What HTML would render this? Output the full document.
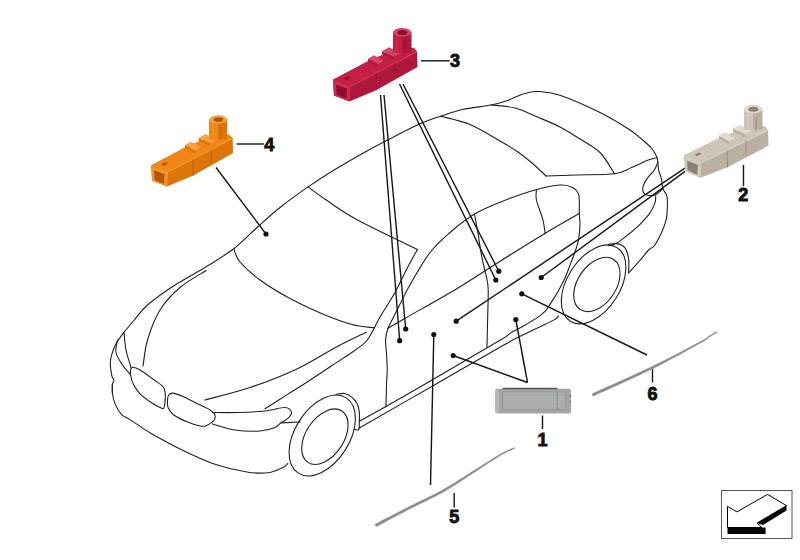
<!DOCTYPE html>
<html><head><meta charset="utf-8"><style>
html,body{margin:0;padding:0;background:#fff;width:800px;height:560px;overflow:hidden}
svg{display:block}
</style></head><body>
<svg width="800" height="560" viewBox="0 0 800 560">
<g fill="none" stroke="#1f1f1f" stroke-width="1.1" stroke-linecap="round" stroke-linejoin="round">
<path d="M112.4 392.9 C112.4 391.5 112.2 386.4 112.4 384.3 C112.7 382.2 114.0 381.4 113.9 380.0 C113.8 378.6 112.4 378.6 111.8 375.7 C111.2 372.8 110.3 366.5 110.3 362.9 C110.3 359.3 110.8 357.5 111.8 354.3 C112.8 351.1 114.1 347.2 116.1 343.6 C118.1 340.0 120.6 336.8 123.6 332.9 C126.6 329.0 130.3 324.6 134.3 320.0 C138.3 315.4 140.7 310.8 147.5 305.0 C154.3 299.2 165.4 291.2 175.0 285.0 C184.6 278.8 195.2 273.5 205.0 267.5 C214.8 261.5 225.2 255.2 233.8 248.8 C242.2 242.2 248.3 235.4 256.0 228.5 C263.7 221.6 271.3 214.4 280.0 207.5 C288.7 200.6 298.7 193.4 308.1 186.9 C317.5 180.4 326.1 174.9 336.2 168.8 C346.4 162.6 359.0 155.4 368.8 150.0 C378.5 144.6 386.5 140.6 395.0 136.2 C403.5 131.9 412.4 127.1 420.0 123.8 C427.6 120.4 433.5 118.6 440.6 116.2 C447.7 113.9 454.1 111.4 462.5 109.5 C470.9 107.6 483.5 106.5 491.0 105.0 C498.5 103.5 502.0 102.4 507.5 100.5 C513.0 98.6 519.0 95.2 524.0 93.8 C529.0 92.2 531.5 91.2 537.5 91.5 C543.5 91.8 549.6 91.8 560.0 95.2 C570.4 98.8 588.3 106.7 600.0 112.5 C611.7 118.3 622.9 125.4 630.0 130.0 C637.1 134.6 639.0 137.0 642.6 140.0 C646.2 143.0 649.0 145.1 651.4 148.0 C653.8 150.9 655.8 154.0 657.0 157.7 C658.2 161.4 657.9 166.5 658.6 170.0 C659.3 173.5 660.7 175.5 661.4 178.6 C662.1 181.7 661.9 185.5 662.9 188.6 C663.9 191.7 666.4 193.0 667.1 197.1 C667.8 201.2 667.3 208.8 667.1 212.9 C666.9 217.0 666.7 218.1 665.7 221.4 C664.8 224.7 663.3 228.9 661.4 232.9 C659.5 236.9 656.4 242.8 654.3 245.7 C652.2 248.5 651.0 247.6 648.6 250.0 C646.2 252.4 643.3 256.6 640.0 260.4 C636.7 264.2 630.5 270.8 628.6 272.9"/>
<path d="M112.4 384.3 C112.4 385.7 112.0 389.7 112.4 392.9 C112.8 396.1 113.5 400.0 115.0 403.6 C116.5 407.2 118.9 411.6 121.4 414.3 C123.9 417.0 125.0 416.4 130.0 419.6 C135.0 422.8 142.4 428.3 151.2 433.4 C160.1 438.5 172.5 445.3 183.1 450.4 C193.7 455.5 204.4 460.6 215.0 464.2 C225.6 467.8 238.1 470.6 246.9 472.0 C255.8 473.4 262.1 473.5 268.1 472.7 C274.1 471.9 279.7 468.9 283.0 467.4 C286.3 465.9 287.0 464.1 287.8 463.5"/>
<path d="M206.2 270.5 C201.9 273.3 187.7 280.9 180.0 287.5 C172.3 294.1 165.4 301.2 160.0 310.0 C154.6 318.8 150.3 330.7 147.5 340.0 C144.7 349.3 143.8 361.7 143.0 366.0"/>
<path d="M124.0 332.0 C124.3 335.0 124.8 344.1 126.0 350.0 C127.2 355.9 130.2 364.6 131.0 367.5"/>
<path d="M117.5 340.0 C117.2 342.1 115.2 348.3 116.0 352.5 C116.8 356.7 120.2 361.4 122.5 365.0 C124.8 368.6 128.8 372.5 130.0 374.0"/>
<path d="M233.8 248.8 C234.8 251.0 235.6 256.8 240.0 262.0 C244.4 267.2 251.7 273.9 260.0 280.0 C268.3 286.1 279.6 292.9 290.0 298.5 C300.4 304.1 311.9 309.4 322.1 313.7 C332.3 318.0 342.3 321.8 351.0 324.2 C359.7 326.6 370.4 327.3 374.3 327.9"/>
<path d="M308.1 186.9 C311.1 189.1 318.0 194.5 326.2 200.0 C334.5 205.5 342.3 211.8 357.5 220.0 C372.7 228.2 407.5 244.6 417.5 249.5"/>
<path d="M417.5 249.5 C415.8 252.5 411.2 260.3 407.5 267.5 C403.8 274.7 399.6 284.2 395.0 292.5 C390.4 300.8 383.4 311.1 380.0 317.0 C376.6 322.9 376.6 323.9 374.3 327.9 C372.1 331.9 369.8 337.2 366.5 341.0 C363.2 344.8 360.1 346.6 354.3 350.7 C348.6 354.8 339.3 360.6 332.0 365.5 C324.7 370.4 317.7 375.2 310.3 380.0 C302.9 384.8 295.2 389.6 287.6 394.4 C280.1 399.2 268.8 406.4 265.0 408.8"/>
<path d="M366.3 332.2 C361.6 334.5 349.9 339.7 338.2 345.9 C326.5 352.1 311.1 362.3 296.4 369.2 C281.7 376.1 265.2 382.4 250.0 387.5 C234.8 392.6 212.5 397.9 205.0 400.0"/>
<path d="M440.6 116.2 C445.5 117.6 460.1 120.4 470.0 124.5 C479.9 128.6 492.0 136.4 500.0 141.0 C508.0 145.6 512.7 148.3 518.0 152.0 C523.3 155.7 527.3 159.0 532.0 163.0 C536.7 167.0 543.7 173.8 546.0 176.0"/>
<path d="M491.0 105.0 C495.0 105.5 507.2 106.0 515.0 108.0 C522.8 110.0 530.0 113.8 537.5 117.0 C545.0 120.2 552.9 123.3 560.0 127.0 C567.1 130.7 573.3 134.8 580.0 139.0 C586.7 143.2 594.2 146.7 600.0 152.5 C605.8 158.3 612.1 170.2 614.5 173.8"/>
<path d="M546.0 176.0 C550.8 175.8 563.6 175.4 575.0 175.0 C586.4 174.6 605.0 175.0 614.5 173.8 C624.0 172.5 626.5 169.6 632.1 167.3 C637.7 165.0 644.1 161.7 648.2 160.1 C652.4 158.5 655.5 158.1 657.0 157.7"/>
<path d="M657.9 162.0 C657.3 163.3 656.1 167.2 654.3 170.0 C652.5 172.8 649.0 175.8 647.1 178.6 C645.2 181.4 643.4 184.6 642.9 187.1 C642.4 189.6 642.9 192.2 644.3 193.6 C645.7 195.0 649.4 195.6 651.4 195.7 C653.4 195.8 654.5 195.5 656.4 194.3 C658.3 193.1 661.8 189.6 662.9 188.6"/>
<path d="M655.7 195.7 C655.6 196.9 656.0 200.0 655.0 202.9 C654.0 205.8 652.5 209.3 650.0 212.9 C647.5 216.5 643.6 220.7 640.0 224.3 C636.4 227.9 632.4 231.2 628.6 234.3 C624.8 237.4 620.4 241.0 617.1 242.9 C613.8 244.8 610.0 245.2 608.6 245.7"/>
<path d="M386.0 406.8 C386.1 403.2 386.3 391.1 386.5 385.0 C386.7 378.9 387.2 375.4 387.2 370.0 C387.2 364.6 386.7 357.4 386.4 352.3 C386.1 347.2 385.3 343.4 385.6 339.4 C385.9 335.4 386.8 331.7 388.0 328.2 C389.2 324.7 390.9 322.4 392.8 318.6 C394.7 314.9 396.3 311.3 399.2 305.7 C402.1 300.1 404.9 293.7 410.0 284.8 C415.1 275.9 423.3 261.2 430.0 252.5 C436.7 243.8 442.5 239.0 450.0 232.5 C457.5 226.0 466.2 219.0 475.0 213.8 C483.8 208.5 492.5 205.2 502.5 201.2 C512.5 197.3 525.4 192.7 535.0 190.0 C544.6 187.3 553.8 185.4 560.0 185.0 C566.2 184.6 569.4 185.8 572.5 187.5 C575.6 189.2 577.6 190.4 578.8 195.0 C579.9 199.6 579.1 210.2 579.3 215.0 C579.5 219.8 580.1 219.5 580.0 223.6 C579.9 227.7 579.4 234.6 578.6 239.3 C577.8 244.1 576.3 248.0 575.0 252.1 C573.7 256.1 572.3 259.3 570.6 263.6 C568.9 267.9 567.2 273.1 565.0 277.9 C562.8 282.7 558.8 290.1 557.5 292.5"/>
<path d="M388.0 328.2 C390.8 326.6 393.5 324.9 404.8 318.4 C416.1 311.9 440.5 298.5 456.0 289.2 C471.5 279.9 483.1 271.9 497.8 262.7 C512.5 253.4 530.9 241.9 544.4 233.7 C557.9 225.5 573.0 217.1 578.8 213.8"/>
<path d="M536.4 190.0 C536.4 191.7 535.3 195.1 536.4 200.0 C537.5 204.9 541.3 213.7 542.8 219.3 C544.3 224.9 544.8 231.3 545.2 233.7"/>
<path d="M474.5 214.5 C475.1 217.4 476.6 225.0 477.8 232.1 C479.0 239.2 480.4 249.6 481.9 257.3 C483.4 265.0 485.6 272.8 486.7 278.2 C487.8 283.6 488.0 283.0 488.2 290.0 C488.4 297.0 487.8 310.5 487.6 320.0 C487.4 329.5 487.1 342.5 487.0 347.0"/>
<path d="M359.3 421.2 C363.7 418.8 375.4 412.5 385.5 406.8 C395.6 401.1 401.4 397.8 420.0 387.0 C438.6 376.2 482.0 350.9 497.0 342.0 C512.0 333.1 506.0 335.9 510.0 333.4 C514.0 330.9 516.5 329.9 521.2 327.2 C525.9 324.5 534.0 319.9 538.1 317.1 C542.2 314.3 543.9 312.6 546.0 310.4 C548.1 308.1 548.6 306.6 550.5 303.6 C552.4 300.6 556.3 294.4 557.5 292.5"/>
<path d="M358.9 428.3 C371.9 420.8 413.0 397.2 437.0 383.4 C461.0 369.6 489.9 353.0 503.0 345.5 C516.1 338.0 511.6 340.6 515.6 338.5 C519.6 336.4 522.2 335.1 526.9 332.9 C531.6 330.6 539.0 327.2 543.7 325.0 C548.4 322.8 552.5 320.9 555.0 319.4 C557.5 317.9 557.8 316.6 558.4 316.0"/>
<path d="M212.5 412.5 C216.7 412.5 228.8 412.8 237.5 412.5 C246.2 412.2 257.1 411.8 265.0 411.0 C272.9 410.2 280.6 407.3 285.0 407.5 C289.4 407.7 290.9 410.3 291.4 412.1 C291.9 413.9 289.7 416.6 287.9 418.4 C286.1 420.2 282.8 421.4 280.7 422.9 C278.6 424.4 278.4 426.1 275.0 427.5 C271.6 428.9 266.7 430.6 260.0 431.0 C253.3 431.4 242.9 431.2 235.0 430.0 C227.1 428.8 216.2 425.0 212.5 424.0"/>
<path d="M280.7 422.9 L300.4 422.0"/>
<path d="M336.0 394.3 C337.4 394.2 341.9 393.0 344.5 393.5 C347.1 394.0 349.7 395.4 351.8 397.1 C353.9 398.8 355.9 401.1 357.1 403.6 C358.4 406.1 358.9 409.2 359.3 412.1 C359.7 415.0 359.4 418.2 359.3 421.2 C359.2 424.1 359.6 428.5 358.7 429.8 C357.8 431.1 354.8 429.1 354.0 429.0"/>
<path d="M608.6 244.3 C610.0 244.2 614.4 243.0 617.1 243.6 C619.8 244.2 623.1 245.4 625.0 247.9 C626.9 250.4 628.0 254.4 628.6 258.6 C629.2 262.8 628.6 270.5 628.6 272.9"/>
<ellipse cx="322.25" cy="435.50" rx="44.60" ry="27.20" transform="rotate(-57.50 322.25 435.50)"/>
<ellipse cx="324.90" cy="436.70" rx="30.80" ry="18.90" transform="rotate(-56.50 324.90 436.70)"/>
<ellipse cx="593.60" cy="284.40" rx="43.60" ry="26.30" transform="rotate(-57.50 593.60 284.40)"/>
<ellipse cx="596.87" cy="284.43" rx="30.08" ry="19.17" transform="rotate(-55.87 596.87 284.43)"/>
<path d="M131.9 367.5 C133.5 366.7 136.6 368.1 140.0 370.0 C143.4 371.9 148.8 376.0 152.5 378.8 C156.2 381.5 160.4 384.0 162.5 386.2 C164.6 388.5 164.8 389.8 165.2 392.5 C165.7 395.2 165.2 399.9 165.0 402.5 C164.8 405.1 164.4 407.2 163.8 408.1 C163.1 409.0 163.3 409.0 161.2 408.1 C159.2 407.2 154.8 404.9 151.2 402.5 C147.7 400.1 142.9 396.7 140.0 393.8 C137.1 390.8 135.3 388.1 133.8 385.0 C132.2 381.9 130.9 377.9 130.6 375.0 C130.3 372.1 130.3 368.3 131.9 367.5Z"/>
<path d="M168.8 395.0 C169.6 393.9 170.2 392.9 172.5 393.1 C174.8 393.3 178.3 394.5 182.5 396.2 C186.7 398.0 192.9 401.5 197.5 403.8 C202.1 406.0 207.1 408.1 210.0 410.0 C212.9 411.9 214.4 413.2 215.0 415.0 C215.6 416.8 215.0 418.9 213.8 420.6 C212.5 422.3 209.6 424.1 207.5 425.0 C205.4 425.9 204.4 426.7 201.2 426.2 C198.1 425.8 193.3 424.4 188.8 422.5 C184.2 420.6 177.2 417.5 173.8 415.0 C170.3 412.5 169.1 410.0 168.1 407.5 C167.1 405.0 167.4 402.1 167.5 400.0 C167.6 397.9 167.9 396.1 168.8 395.0Z"/>
</g>
<g fill="none" stroke="#151515" stroke-width="1.4" stroke-linecap="butt">
<path d="M216.0 167.5 L266.0 234.0"/>
<path d="M236.6 144.0 L263.8 144.0"/>
<path d="M421.0 60.8 L449.5 60.8"/>
<path d="M380.5 95.0 L399.7 340.7"/>
<path d="M384.0 95.0 L405.7 329.0"/>
<path d="M399.5 84.0 L495.8 280.0"/>
<path d="M403.0 84.0 L498.8 271.2"/>
<path d="M685.0 168.2 L456.2 321.2"/>
<path d="M685.0 171.4 L541.2 277.5"/>
<path d="M743.5 165.0 L743.5 186.0"/>
<path d="M453.2 355.5 L527.5 382.5"/>
<path d="M515.8 319.5 L527.5 382.5"/>
<path d="M542.5 415.5 L542.5 429.0"/>
<path d="M433.8 334.5 L430.5 485.0"/>
<path d="M454.2 493.0 L454.2 507.5"/>
<path d="M521.8 293.8 L647.0 355.0"/>
<path d="M652.5 368.8 L652.5 382.5"/>
</g>
<g fill="#111">
<circle cx="266.0" cy="234.0" r="2.6"/>
<circle cx="399.7" cy="340.7" r="2.6"/>
<circle cx="405.7" cy="329.0" r="2.6"/>
<circle cx="498.8" cy="271.2" r="2.6"/>
<circle cx="495.8" cy="280.0" r="2.6"/>
<circle cx="456.2" cy="321.2" r="2.6"/>
<circle cx="541.2" cy="277.5" r="2.6"/>
<circle cx="453.2" cy="355.5" r="2.6"/>
<circle cx="515.8" cy="319.5" r="2.6"/>
<circle cx="433.8" cy="334.5" r="2.6"/>
<circle cx="521.8" cy="293.8" r="2.6"/>
</g>
<path d="M593.0 396.2 L596.0 394.8 L599.7 393.1 L604.1 391.2 L609.0 388.9 L614.4 386.5 L620.0 383.9 L625.8 381.3 L631.7 378.6 L637.5 375.9 L643.0 373.3 L648.2 370.8 L653.0 368.5 L657.5 366.2 L662.0 363.9 L666.6 361.5 L671.1 359.1 L675.5 356.8 L679.8 354.5 L683.9 352.2 L687.8 350.1 L691.4 348.1 L694.7 346.2 L697.7 344.5 L700.3 343.1 L702.5 341.9 L704.2 340.9 L705.5 340.0 L706.6 339.4 L707.3 338.8 L707.9 338.4 L708.3 338.0 L708.7 337.7 L709.0 337.5 L709.3 337.2 L709.7 336.9 L710.3 336.5 L711.0 336.0 L711.7 335.6 L712.4 335.2 L713.1 334.8 L713.7 334.4 L714.4 334.1 L715.0 333.7 L715.5 333.4 L716.1 333.1 L716.5 332.9 L716.9 332.6 L717.2 332.4 L716.8 331.6 L716.4 331.7 L716.0 332.0 L715.6 332.2 L715.0 332.5 L714.5 332.8 L713.9 333.1 L713.2 333.5 L712.5 333.9 L711.8 334.3 L711.1 334.7 L710.4 335.1 L709.7 335.5 L709.1 335.9 L708.6 336.3 L708.2 336.6 L707.9 336.9 L707.6 337.1 L707.2 337.5 L706.6 337.9 L705.9 338.4 L704.9 339.0 L703.6 339.8 L701.8 340.7 L699.7 341.9 L697.1 343.3 L694.0 344.9 L690.7 346.7 L687.0 348.7 L683.1 350.7 L679.0 352.9 L674.6 355.2 L670.2 357.4 L665.7 359.8 L661.1 362.0 L656.5 364.3 L652.0 366.5 L647.3 368.8 L642.0 371.2 L636.5 373.8 L630.7 376.4 L624.9 379.1 L619.0 381.7 L613.4 384.2 L608.0 386.6 L603.1 388.8 L598.6 390.8 L594.9 392.5 L592.0 393.8Z" fill="#8c8c8c" stroke="#8c8c8c" stroke-width="0.4" stroke-linejoin="round"/>
<path d="M376.1 526.7 L377.8 525.8 L379.9 524.7 L382.3 523.4 L385.1 521.9 L388.1 520.3 L391.3 518.6 L394.6 516.9 L397.9 515.1 L401.3 513.4 L404.5 511.7 L407.6 510.1 L410.5 508.6 L413.3 507.2 L416.1 505.8 L418.8 504.4 L421.6 503.1 L424.3 501.8 L427.0 500.5 L429.7 499.1 L432.4 497.8 L435.1 496.5 L437.8 495.1 L440.4 493.7 L443.0 492.2 L445.6 490.7 L448.2 489.2 L450.8 487.6 L453.3 486.0 L455.8 484.4 L458.4 482.8 L460.8 481.2 L463.3 479.6 L465.7 477.9 L468.2 476.3 L470.6 474.8 L473.0 473.2 L475.4 471.7 L477.8 470.1 L480.3 468.5 L482.8 466.8 L485.2 465.2 L487.6 463.6 L490.0 462.1 L492.3 460.6 L494.5 459.2 L496.5 457.9 L498.5 456.6 L500.3 455.5 L502.0 454.6 L503.6 453.7 L505.1 452.9 L506.6 452.1 L507.9 451.5 L509.2 450.9 L510.4 450.4 L511.4 449.9 L512.4 449.5 L513.3 449.1 L514.0 448.8 L514.7 448.5 L514.3 447.5 L513.6 447.8 L512.9 448.2 L512.0 448.5 L511.0 448.9 L509.9 449.4 L508.7 449.9 L507.5 450.5 L506.1 451.1 L504.6 451.8 L503.1 452.6 L501.4 453.5 L499.7 454.5 L497.8 455.5 L495.9 456.7 L493.7 458.0 L491.5 459.4 L489.2 460.9 L486.8 462.4 L484.4 464.0 L481.9 465.5 L479.4 467.1 L476.9 468.7 L474.5 470.3 L472.0 471.8 L469.6 473.3 L467.2 474.8 L464.7 476.4 L462.3 477.9 L459.8 479.5 L457.3 481.1 L454.8 482.7 L452.2 484.3 L449.7 485.8 L447.1 487.3 L444.5 488.8 L442.0 490.3 L439.4 491.7 L436.7 493.1 L434.1 494.4 L431.4 495.8 L428.7 497.1 L426.0 498.4 L423.3 499.7 L420.6 501.0 L417.8 502.3 L415.0 503.7 L412.3 505.0 L409.5 506.4 L406.5 507.9 L403.4 509.5 L400.1 511.2 L396.8 512.9 L393.4 514.7 L390.1 516.4 L386.9 518.1 L383.9 519.6 L381.1 521.1 L378.7 522.4 L376.6 523.5 L374.9 524.3Z" fill="#8c8c8c" stroke="#8c8c8c" stroke-width="0.4" stroke-linejoin="round"/>
<rect x="495.2" y="388.8" width="75.8" height="24.8" rx="2.2" fill="#a3a7a5"/>
<rect x="502.8" y="392" width="63" height="17.3" fill="#adb2b0" stroke="#8e9391" stroke-width="0.8"/>
<line x1="557.3" y1="392" x2="557.3" y2="409.3" stroke="#7f8482" stroke-width="0.9"/>
<g stroke="#9da2a0" stroke-width="0.5"><line x1="503.5" y1="395.0" x2="565" y2="395.0"/><line x1="503.5" y1="398.0" x2="565" y2="398.0"/><line x1="503.5" y1="401.0" x2="565" y2="401.0"/><line x1="503.5" y1="404.0" x2="565" y2="404.0"/><line x1="503.5" y1="407.0" x2="565" y2="407.0"/></g>
<rect x="495.8" y="389.5" width="3" height="23.5" fill="#b3b7b5"/>
<line x1="502.5" y1="388.6" x2="557.5" y2="388.6" stroke="#505452" stroke-width="1.5"/>
<rect x="569.6" y="395" width="1.4" height="2" fill="#6d7270"/>
<rect x="569.6" y="400.8" width="1.4" height="2" fill="#6d7270"/>
<polygon points="333.0,79.7 369.4,60.4 393.0,50.7 413.5,47.7 417.0,51.7 417.5,66.9 376.6,90.0 349.4,101.5 334.0,95.4" fill="#b0173d"/>
<polygon points="333.0,79.7 369.4,60.4 393.0,50.7 413.5,47.7 417.0,51.7 376.0,73.1 350.6,86.3" fill="#c42044"/>
<polyline points="350.6,86.3 376.0,73.1 417.0,51.7" fill="none" stroke="#d4466c" stroke-width="0.9"/>
<polygon points="333.0,79.7 350.6,86.3 349.4,101.5 334.0,95.4" fill="#cc2c52"/>
<polygon points="336.0,84.7 347.0,88.7 346.3,98.7 336.6,94.5" fill="#8c0e30"/>
<polyline points="376.0,73.1 376.6,90.0" fill="none" stroke="#8c0e30" stroke-width="0.8"/>
<polyline points="395.0,62.2 395.0,77.7" fill="none" stroke="#8c0e30" stroke-width="0.6"/>
<polygon points="368.0,58.7 374.0,55.2 384.0,60.7 378.0,64.2" fill="#d4466c"/>
<polygon points="368.0,58.7 378.0,64.2 378.0,67.2 368.0,61.7" fill="#b0173d"/>
<polygon points="382.0,51.2 389.0,47.2 401.0,52.7 394.0,56.7" fill="#d4466c"/>
<polygon points="382.0,51.2 394.0,56.7 394.0,59.7 382.0,54.2" fill="#b0173d"/>
<polygon points="343.5,78.7 348.0,76.2 350.5,77.5 346.0,80.1" fill="#8c0e30"/>
<rect x="393.0" y="32.2" width="18.5" height="20.5" fill="#b0173d"/>
<rect x="393.0" y="32.2" width="9.0" height="20.5" fill="#c42044"/>
<polyline points="397.0,35.7 397.0,52.7" fill="none" stroke="#d4466c" stroke-width="0.6"/>
<polyline points="405.0,39.7 405.0,53.7" fill="none" stroke="#8c0e30" stroke-width="0.7"/>
<ellipse cx="402.2" cy="32.2" rx="9.2" ry="4.3" fill="#d4466c"/>
<ellipse cx="402.4" cy="32.4" rx="5.0" ry="2.5" fill="#8c0e30"/>
<polygon points="151.1,165.5 186.4,146.8 209.3,137.4 229.2,134.5 232.6,138.3 233.1,153.1 193.4,175.5 167.0,186.6 152.1,180.7" fill="#de740c"/>
<polygon points="151.1,165.5 186.4,146.8 209.3,137.4 229.2,134.5 232.6,138.3 192.8,159.1 168.2,171.9" fill="#f08618"/>
<polyline points="168.2,171.9 192.8,159.1 232.6,138.3" fill="none" stroke="#f7a445" stroke-width="0.9"/>
<polygon points="151.1,165.5 168.2,171.9 167.0,186.6 152.1,180.7" fill="#f39328"/>
<polygon points="154.0,170.3 164.7,174.2 164.0,183.9 154.6,179.9" fill="#b35800"/>
<polyline points="192.8,159.1 193.4,175.5" fill="none" stroke="#b35800" stroke-width="0.8"/>
<polyline points="211.2,148.5 211.2,163.6" fill="none" stroke="#b35800" stroke-width="0.6"/>
<polygon points="185.0,145.1 190.9,141.7 200.6,147.1 194.8,150.5" fill="#f7a445"/>
<polygon points="185.0,145.1 194.8,150.5 194.8,153.4 185.0,148.0" fill="#de740c"/>
<polygon points="198.6,137.9 205.4,134.0 217.1,139.3 210.3,143.2" fill="#f7a445"/>
<polygon points="198.6,137.9 210.3,143.2 210.3,146.1 198.6,140.8" fill="#de740c"/>
<polygon points="161.3,164.5 165.7,162.1 168.1,163.4 163.7,165.9" fill="#b35800"/>
<rect x="209.3" y="119.4" width="17.9" height="19.9" fill="#de740c"/>
<rect x="209.3" y="119.4" width="8.7" height="19.9" fill="#f08618"/>
<polyline points="213.2,122.8 213.2,139.3" fill="none" stroke="#f7a445" stroke-width="0.6"/>
<polyline points="220.9,126.7 220.9,140.3" fill="none" stroke="#b35800" stroke-width="0.7"/>
<ellipse cx="218.3" cy="119.4" rx="9.0" ry="4.2" fill="#f7a445"/>
<ellipse cx="218.4" cy="119.6" rx="4.8" ry="2.4" fill="#b35800"/>
<polygon points="684.0,155.4 720.4,137.4 744.0,128.5 764.5,126.2 768.0,130.3 768.5,145.6 727.6,167.2 700.4,177.8 685.0,171.1" fill="#b9b0a2"/>
<polygon points="684.0,155.4 720.4,137.4 744.0,128.5 764.5,126.2 768.0,130.3 727.0,150.3 701.6,162.6" fill="#cdc5b8"/>
<polyline points="701.6,162.6 727.0,150.3 768.0,130.3" fill="none" stroke="#e0dad0" stroke-width="0.9"/>
<polygon points="684.0,155.4 701.6,162.6 700.4,177.8 685.0,171.1" fill="#d4ccc0"/>
<polygon points="687.0,160.5 698.0,164.9 697.3,174.9 687.6,170.3" fill="#8a8172"/>
<polyline points="727.0,150.3 727.6,167.2" fill="none" stroke="#8a8172" stroke-width="0.8"/>
<polyline points="746.0,140.1 746.0,155.6" fill="none" stroke="#8a8172" stroke-width="0.6"/>
<polygon points="719.0,135.6 725.0,132.3 735.0,138.2 729.0,141.5" fill="#e0dad0"/>
<polygon points="719.0,135.6 729.0,141.5 729.0,144.5 719.0,138.6" fill="#b9b0a2"/>
<polygon points="733.0,128.6 740.0,124.9 752.0,130.8 745.0,134.5" fill="#e0dad0"/>
<polygon points="733.0,128.6 745.0,134.5 745.0,137.5 733.0,131.6" fill="#b9b0a2"/>
<polygon points="694.5,154.8 699.0,152.4 701.5,153.8 697.0,156.3" fill="#8a8172"/>
<rect x="744.0" y="109.0" width="18.5" height="20.5" fill="#b9b0a2"/>
<rect x="744.0" y="109.0" width="9.0" height="20.5" fill="#cdc5b8"/>
<polyline points="748.0,113.6 748.0,130.6" fill="none" stroke="#e0dad0" stroke-width="0.6"/>
<polyline points="756.0,117.9 756.0,131.9" fill="none" stroke="#8a8172" stroke-width="0.7"/>
<ellipse cx="753.2" cy="109.0" rx="9.2" ry="4.3" fill="#e0dad0"/>
<ellipse cx="753.4" cy="109.2" rx="5.0" ry="2.5" fill="#8a8172"/>
<g font-family="Liberation Sans, sans-serif" font-weight="bold" font-size="18" fill="#111" stroke="#111" stroke-width="0.9" text-anchor="middle">
<text x="542.5" y="445.5">1</text>
<text x="743.2" y="201.4">2</text>
<text x="455.0" y="66.9">3</text>
<text x="269.2" y="151.0">4</text>
<text x="454.2" y="523.0">5</text>
<text x="652.5" y="399.5">6</text>
</g>
<rect x="721.5" y="490.5" width="70.5" height="48" fill="#fff" stroke="#555" stroke-width="1"/>
<polygon points="727.5,527.5 765.6,527.5 765.6,534 727.5,534" fill="#000"/>
<polygon points="786.5,505.6 786.5,510.6 763,525 756.9,523.1" fill="#000"/>
<polygon points="727.5,506.25 736.9,511.9 767.5,494.4 786.5,505.6 756.9,523.1 762,527.5 727.5,527.5" fill="#fff" stroke="#000" stroke-width="1" stroke-linejoin="miter"/>
</svg>
</body></html>
